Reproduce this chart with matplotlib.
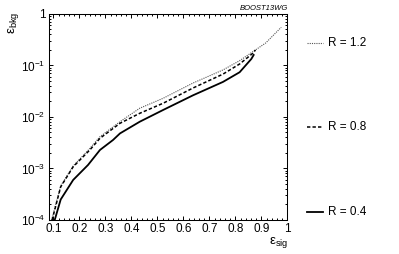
import numpy as np
import matplotlib as mpl
mpl.use("Agg")
import matplotlib.pyplot as plt
from matplotlib.lines import Line2D
from matplotlib.ticker import MultipleLocator, FuncFormatter, LogLocator, NullFormatter

# signal efficiency / background efficiency
r04_sig = [0.105, 0.128, 0.176, 0.233, 0.279, 0.329, 0.356, 0.432, 0.522, 0.637, 0.752, 0.816, 0.861, 0.870]
r04_bkg = [1.0e-4, 2.5e-4, 6.0e-4, 1.17e-3, 2.29e-3, 3.57e-3, 4.8e-3, 8.1e-3, 0.0137, 0.0264, 0.048, 0.074, 0.134, 0.16]

r08_sig = [0.095, 0.128, 0.176, 0.240, 0.279, 0.356, 0.432, 0.522, 0.637, 0.752, 0.816, 0.867, 0.877]
r08_bkg = [1.0e-4, 4.4e-4, 1.08e-3, 2.29e-3, 3.86e-3, 7.55e-3, 0.0118, 0.0185, 0.0366, 0.068, 0.107, 0.173, 0.20]

r12_sig = [0.093, 0.128, 0.176, 0.240, 0.279, 0.356, 0.432, 0.522, 0.637, 0.752, 0.816, 0.916, 0.976]
r12_bkg = [1.0e-4, 4.6e-4, 1.12e-3, 2.45e-3, 4.14e-3, 8.1e-3, 0.0148, 0.0231, 0.0457, 0.082, 0.124, 0.273, 0.552]

labels = ["R = 1.2", "R = 0.8", "R = 0.4"]

mpl.rcParams.update(
    {
        "font.family": ["Liberation Sans", "DejaVu Sans"],
        "mathtext.fontset": "custom",
        "mathtext.rm": "Liberation Sans",
        "mathtext.it": "Liberation Sans:italic",
        "mathtext.bf": "Liberation Sans:bold",
        "font.size": 8.5,
        "axes.linewidth": 0.75,
    }
)

fig = plt.figure(figsize=(3.99, 2.54), dpi=100)
ax = fig.add_axes([0.1228, 0.1339, 0.5977, 0.811])

styles = [
    dict(color="#555555", lw=0.8, ls=(0, (1, 1))),
    dict(color="black", lw=1.1, ls=(0, (2.2, 1.4))),
    dict(color="black", lw=1.3, ls="-"),
]

ax.plot(r12_sig, r12_bkg, **styles[0])
ax.plot(r08_sig, r08_bkg, **styles[1])
ax.plot(r04_sig, r04_bkg, **styles[2])

ax.set_yscale("log")
ax.set_xlim(0.083, 1.0)
ax.set_ylim(1e-4, 1)

ax.xaxis.set_major_locator(MultipleLocator(0.1))
ax.xaxis.set_minor_locator(MultipleLocator(0.02))
ax.xaxis.set_major_formatter(FuncFormatter(lambda v, p: f"{v:g}"))
ax.yaxis.set_major_locator(LogLocator(base=10, numticks=10))
ax.yaxis.set_minor_locator(LogLocator(base=10, subs=np.arange(2, 10), numticks=20))
ax.yaxis.set_minor_formatter(NullFormatter())
ax.yaxis.set_major_formatter(
    FuncFormatter(lambda v, p: "1" if abs(v - 1) < 1e-9 else f"$10^{{{int(round(np.log10(v)))}}}$")
)

ax.tick_params(which="both", direction="in", top=True, right=True, width=0.7, labelsize=8.5)
ax.tick_params(which="major", length=3.2, pad=2.5)
ax.tick_params(which="minor", length=1.7)

fig.text(0.722, 0.075, r"ε$_{\mathrm{sig}}$", ha="right", va="top", fontsize=9.5)
fig.text(0.033, 0.955, r"ε$_{\mathrm{bkg}}$", ha="center", va="top", rotation=90, fontsize=9.5)
fig.text(0.722, 0.967, "BOOST13WG", ha="right", va="center", fontsize=5.5, style="italic")

# legend entries spread down the right side
leg_y = [42.5, 127, 212]
for st, lab, yp in zip(styles, labels, leg_y):
    yf = 1 - yp / 254
    fig.add_artist(Line2D([306.5 / 399, 322.5 / 399], [yf, yf], transform=fig.transFigure,
                          color=st["color"], lw=st["lw"], ls=st["ls"]))
    fig.text(328 / 399, yf, lab, ha="left", va="center", fontsize=8.5)

fig.savefig("out.png", dpi=100)
